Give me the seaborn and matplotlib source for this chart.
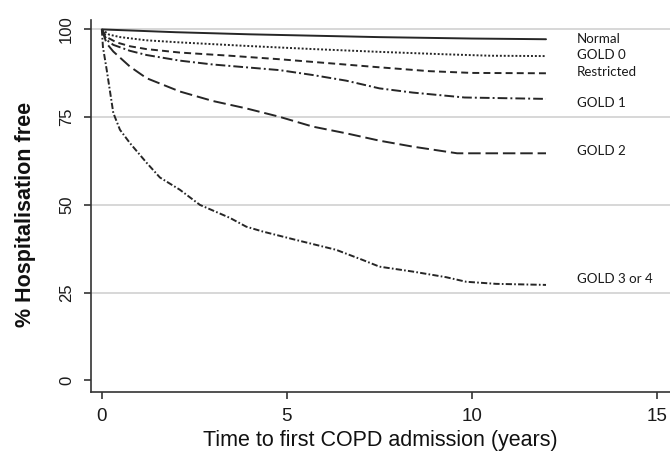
import numpy as np
import pandas as pd
import matplotlib
matplotlib.use("Agg")
import matplotlib.pyplot as plt
import seaborn as sns

# ---- data ----
normal_t = [0, 2, 4, 7.5, 10, 12]
normal_v = [100, 99.2, 98.6, 97.8, 97.4, 97.2]

gold0_t = [0, 0.2, 0.5, 1.2, 2.1, 3.9, 5.7, 7.5, 9.3, 10.5, 12]
gold0_v = [100, 98.5, 97.8, 96.9, 96.3, 95.3, 94.4, 93.6, 92.9, 92.5, 92.4]

restricted_t = [0, 0.13, 0.4, 0.76, 1.2, 2.11, 3.46, 4.8, 6.1, 7.5, 8.85, 10, 12]
restricted_v = [100, 97.8, 96.3, 95.2, 94.4, 93.4, 92.5, 91.5, 90.4, 89.2, 88.1, 87.6, 87.5]

gold1_t = [0, 0.13, 0.31, 0.76, 1.21, 2.11, 3.0, 4.8, 5.7, 6.6, 7.5, 8.4, 9.8, 12]
gold1_v = [100, 97.0, 95.6, 93.9, 92.7, 91.1, 90.0, 88.4, 87.0, 85.4, 83.2, 82.0, 80.6, 80.2]

gold2_t = [0, 0.13, 0.31, 0.76, 1.21, 2.11, 3.0, 3.9, 4.8, 5.7, 6.6, 7.5, 8.4, 9.6, 12]
gold2_v = [100, 96.0, 93.7, 89.4, 86.1, 82.3, 79.6, 77.5, 75.1, 72.3, 70.4, 68.3, 66.6, 64.7, 64.7]

gold34_t = [0, 0.03, 0.13, 0.31, 0.49, 0.76, 1.21, 1.57, 2.11, 2.65, 3.46, 3.9, 4.35,
            5.25, 6.33, 7.05, 7.5, 8.4, 9.3, 9.84, 10.65, 12]
gold34_v = [100, 95, 88.6, 76.2, 71.4, 67.6, 62.0, 57.8, 54.3, 50.0, 46.3, 43.8, 42.4,
            40.0, 37.2, 34.3, 32.4, 31.0, 29.4, 28.1, 27.5, 27.2]

labels = ["Normal", "GOLD 0", "Restricted", "GOLD 1", "GOLD 2", "GOLD 3 or 4"]
label_y = [97.2, 92.7, 87.9, 79.1, 65.4, 28.8]
label_x = 12.84

x_ticks = [0, 5, 10, 15]
y_ticks = [0, 25, 50, 75, 100]
grid_y = [25, 50, 75, 100]

# ---- styling ----
sns.set_theme(style="white")
plt.rcParams["font.family"] = ["Liberation Sans", "DejaVu Sans"]
plt.rcParams["lines.scale_dashes"] = False

fig = plt.figure(figsize=(6.7, 4.53), dpi=100)
ax = fig.add_axes([0.1354, 0.134, 0.8646, 0.822])

line_col = "#262626"
series = [
    (normal_t, normal_v, "-"),
    (gold0_t, gold0_v, (0, (1.4, 1.4))),
    (restricted_t, restricted_v, (0, (5, 3))),
    (gold1_t, gold1_v, (0, (7, 2.2, 1.4, 2.2))),
    (gold2_t, gold2_v, (0, (9, 3.5))),
    (gold34_t, gold34_v, (0, (4.5, 1.6, 1.2, 1.6))),
]

for gy in grid_y:
    ax.axhline(gy, color="#d4d4d4", lw=1.3, zorder=0)

for (t, v, ls), name in zip(series, labels):
    df = pd.DataFrame({"t": t, "v": v})
    sns.lineplot(data=df, x="t", y="v", ax=ax, color=line_col, lw=1.4,
                 linestyle=ls, estimator=None, sort=True)

for name, yv in zip(labels, label_y):
    ax.text(label_x, yv, name, fontsize=9.6, family=["Lato", "DejaVu Sans"],
            color="#1a1a1a", va="center", ha="left")

ax.set_xlim(-0.3, 15.35)
ax.set_ylim(-3.4, 102.7)
ax.set_xticks(x_ticks)
ax.set_yticks(y_ticks)
ax.set_xticklabels([str(v) for v in x_ticks], fontsize=13.5, color="#1a1a1a")
ax.set_yticklabels([str(v) for v in y_ticks], fontsize=12, color="#1a1a1a",
                   rotation=90, va="center")

for s in ["top", "right"]:
    ax.spines[s].set_visible(False)
for s in ["left", "bottom"]:
    ax.spines[s].set_color("#333333")
    ax.spines[s].set_linewidth(1.2)
ax.tick_params(axis="both", which="major", direction="out", length=5,
               width=1.2, color="#333333", left=True, bottom=True)
ax.tick_params(axis="x", pad=6)
ax.tick_params(axis="y", pad=7)

ax.set_xlabel("Time to first COPD admission (years)", fontsize=15.5, color="#111111")
ax.set_ylabel("% Hospitalisation free", fontsize=15.5, fontweight="bold",
              color="#111111")
ax.xaxis.set_label_coords(0.5, -0.100)
ax.yaxis.set_label_coords(-0.095, 0.478)

fig.savefig("out.png", dpi=100)
